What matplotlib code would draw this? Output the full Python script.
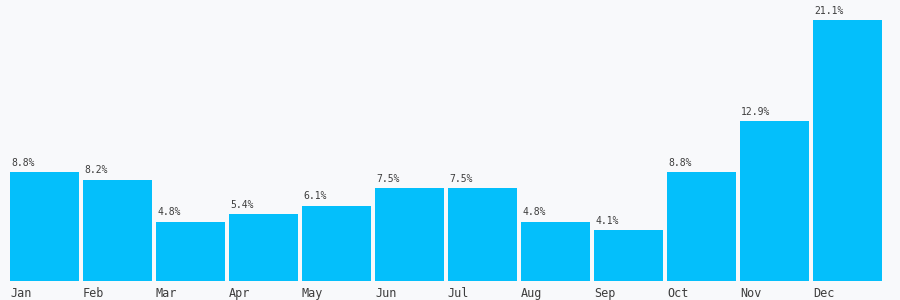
import matplotlib
matplotlib.use("Agg")
import matplotlib.pyplot as plt

months = ["Jan", "Feb", "Mar", "Apr", "May", "Jun",
          "Jul", "Aug", "Sep", "Oct", "Nov", "Dec"]
share = [8.8, 8.2, 4.8, 5.4, 6.1, 7.5, 7.5, 4.8, 4.1, 8.8, 12.9, 21.1]

BG = "#f8f9fb"
BAR = "#04bffb"
TXT = "#3d3d3d"
width = 0.947

plt.rcParams["font.family"] = ["DejaVu Sans Mono"]

fig = plt.figure(figsize=(9, 3), dpi=100, facecolor=BG)
ax = fig.add_axes([10 / 900, 19 / 300, 872 / 900, 261 / 300])
ax.set_facecolor(BG)

xs = list(range(len(months)))
ax.bar(xs, share, width=width, align="edge", color=BAR)

for x, v in zip(xs, share):
    ax.annotate(f"{v}%", (x, v), xytext=(1, 3), textcoords="offset points",
                ha="left", va="bottom", fontsize=7, color=TXT,
                annotation_clip=False)

ax.set_xlim(0, len(months) - 1 + width)
ax.set_ylim(0, max(share))
ax.set_xticks(xs)
ax.set_xticklabels(months, ha="left", fontsize=8.5, color=TXT)
ax.tick_params(axis="x", length=0, pad=4)
ax.set_yticks([])
for s in ax.spines.values():
    s.set_visible(False)

fig.savefig("out.png", facecolor=BG)
